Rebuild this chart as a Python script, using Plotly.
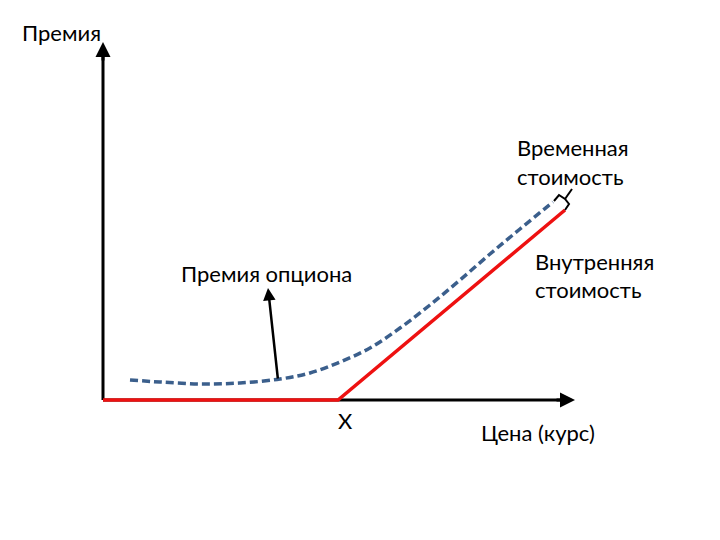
import plotly.graph_objects as go

# Chart units: price along x, premium along y (origin at the axes' corner)
strike = 235
intrinsic_price = [0, 235, 462]
intrinsic_value = [0, 0, 190]

premium_price = [27, 57, 97, 137, 177, 207, 237, 267, 297, 327, 357, 387, 417, 450]
premium_value = [20, 18, 16, 17, 21, 27, 38, 52, 72, 95, 120, 146, 171, 198]

x_axis_end = 472
y_axis_end = 358

FONT = "Lato"
fig = go.Figure()

# axes lines (as traces so the red line draws over them)
fig.add_trace(go.Scatter(x=[0, x_axis_end - 6], y=[0, 0], mode="lines",
                         line=dict(color="black", width=3), hoverinfo="skip"))
fig.add_trace(go.Scatter(x=[0, 0], y=[0, y_axis_end - 6], mode="lines",
                         line=dict(color="black", width=3), hoverinfo="skip"))

# intrinsic value
fig.add_trace(go.Scatter(x=intrinsic_price, y=intrinsic_value, mode="lines",
                         line=dict(color="#EE1111", width=3.5), hoverinfo="skip"))
# option premium
fig.add_trace(go.Scatter(x=premium_price, y=premium_value, mode="lines",
                         line=dict(color="#3B5F8C", width=3.5, dash="8px,4px", shape="spline"),
                         hoverinfo="skip"))

# brace for time value
fig.add_trace(go.Scatter(x=[451, 456, 462, 466, 462], y=[199, 205, 201, 196, 190], mode="lines",
                         line=dict(color="black", width=2), hoverinfo="skip"))
fig.add_trace(go.Scatter(x=[462, 469], y=[201, 211], mode="lines",
                         line=dict(color="black", width=2), hoverinfo="skip"))

ann = []
# arrowheads
ann.append(dict(x=x_axis_end, y=0, ax=x_axis_end - 20, ay=0, xref="x", yref="y",
                axref="x", ayref="y", showarrow=True, arrowhead=2, arrowsize=1,
                arrowwidth=3, arrowcolor="black", text=""))
ann.append(dict(x=0, y=y_axis_end, ax=0, ay=y_axis_end - 20, xref="x", yref="y",
                axref="x", ayref="y", showarrow=True, arrowhead=2, arrowsize=1,
                arrowwidth=3, arrowcolor="black", text=""))
# option premium pointer
ann.append(dict(x=165, y=112, ax=175, ay=20, xref="x", yref="y",
                axref="x", ayref="y", showarrow=True, arrowhead=2, arrowsize=1,
                arrowwidth=2.5, arrowcolor="black", text=""))

def label(text, x, y, xanchor="center"):
    ann.append(dict(x=x, y=y, xref="x", yref="y", text=text, showarrow=False,
                    xanchor=xanchor, yanchor="middle",
                    font=dict(family=FONT, size=22, color="black")))

label("Премия", -41.5, 368)
label("Временная", 412, 253, "left")
label("стоимость", 412, 224, "left")
label("Внутренняя", 430, 139, "left")
label("стоимость", 430, 111, "left")
label("Премия опциона", 163, 127)
label("X", strike + 7, -20)
label("Цена (курс)", 435, -32)

fig.update_layout(
    width=720, height=540,
    margin=dict(l=0, r=0, t=0, b=0),
    paper_bgcolor="white", plot_bgcolor="white",
    showlegend=False,
    xaxis=dict(range=[-95, 625], visible=False, fixedrange=True),
    yaxis=dict(range=[-148, 392], visible=False, fixedrange=True),
    annotations=ann,
)

fig.write_html("out.html")
